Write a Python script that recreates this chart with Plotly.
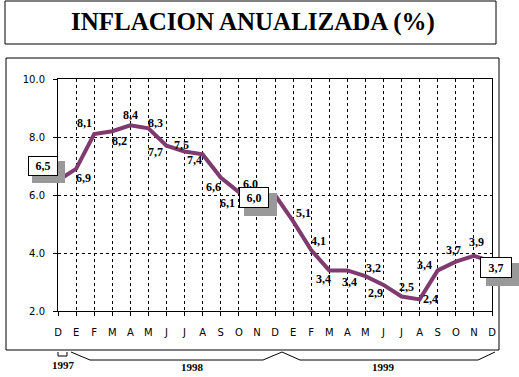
import plotly.graph_objects as go

# ---- data ----
month_labels = ["D", "E", "F", "M", "A", "M", "J", "J", "A", "S", "O", "N",
                "D", "E", "F", "M", "A", "M", "J", "J", "A", "S", "O", "N", "D"]
inflation = [6.5, 6.9, 8.1, 8.2, 8.4, 8.3, 7.7, 7.5, 7.4, 6.6, 6.1, 6.0,
             6.0, 5.1, 4.1, 3.4, 3.4, 3.2, 2.9, 2.5, 2.4, 3.4, 3.7, 3.9, 3.7]
year_labels = ["1997", "1998", "1999"]
title_text = "INFLACION ANUALIZADA (%)"
y_ticks = [2, 4, 6, 8, 10]

x_idx = list(range(len(inflation)))

# label offsets (pixels: dx right, dy down) for plain data labels
label_offsets = {
    1: (7, 8), 2: (-10, -12.5), 3: (7, 9), 4: (0, -11.5), 5: (7, -6.5),
    6: (-11.5, 5.5), 7: (-3, -8), 8: (-8.5, 5), 9: (-7, 8.5), 10: (-11, 9.5),
    11: (-6, -12.5), 13: (10.5, -9.5), 14: (7, -10.5), 15: (-6, 7.5),
    16: (2, 11), 17: (8, -9), 18: (-8, 7.5), 19: (5, -10.5), 20: (11, -1.5),
    21: (-13, -6.5), 22: (-2, -12.5), 23: (2.5, -14.5),
}
# boxed labels: index -> (box xshift, yshift, w, h, shadow xshift, yshift, w, h)
boxed = {
    0: (-15, 14.5, 30, 20, -9.5, 8.5, 33, 22),
    12: (-21, -2.5, 30, 21, -14.5, -9.5, 33, 23),
    24: (4, -5.5, 32, 21, 10.5, -12.4, 33, 23),
}

LINE_COLOR = "#7F3A6F"
SERIF = "Liberation Serif, Times New Roman, serif"
SANS = "DejaVu Sans, Arial, sans-serif"

# pixel -> paper helpers (plot area 58..492 x 79..311)
PL, PR, PT, PB = 58, 492, 79, 311
def px(x):
    return (x - PL) / (PR - PL)
def py(y):
    return (PB - y) / (PB - PT)

def fmt(v):
    return f"{v:.1f}".replace(".", ",")

fig = go.Figure()
fig.add_trace(go.Scatter(
    x=x_idx, y=inflation, mode="lines",
    line=dict(color=LINE_COLOR, width=4),
    hoverinfo="skip", showlegend=False,
))

annotations = []
shapes = []

for i, v in enumerate(inflation):
    if i in label_offsets:
        dx, dy = label_offsets[i]
        annotations.append(dict(
            x=i, y=v, xref="x", yref="y", text=fmt(v), showarrow=False,
            xanchor="center", yanchor="middle", xshift=dx, yshift=-dy - 1,
            font=dict(family=SERIF, size=12, color="black", weight="bold"),
        ))
    if i in boxed:
        bx, by, bw, bh, sx, sy, sw, sh = boxed[i]
        # shadow
        annotations.append(dict(
            x=i, y=v, xref="x", yref="y", text=" ", showarrow=False,
            xanchor="center", yanchor="middle", xshift=sx, yshift=sy,
            width=sw, height=sh, borderpad=0, borderwidth=0,
            bgcolor="#999999", font=dict(size=2, color="#999999"),
        ))
        # white box with value
        annotations.append(dict(
            x=i, y=v, xref="x", yref="y", text=fmt(v), showarrow=False,
            xanchor="center", yanchor="middle", xshift=bx, yshift=by,
            width=bw - 2, height=bh - 2, borderpad=0, borderwidth=1,
            bordercolor="black", bgcolor="white",
            font=dict(family=SERIF, size=12, color="black", weight="bold"),
        ))

# title box and text
shapes.append(dict(type="rect", xref="paper", yref="paper",
                   x0=px(5), x1=px(496), y0=py(1), y1=py(44),
                   line=dict(color="black", width=1), fillcolor="rgba(0,0,0,0)"))
annotations.append(dict(x=px(253), y=py(22.5), xref="paper", yref="paper",
                        text=title_text, showarrow=False, xanchor="center", yanchor="middle",
                        font=dict(family=SERIF, size=25, color="black", weight="bold")))

# outer chart frame
shapes.append(dict(type="rect", xref="paper", yref="paper",
                   x0=px(6), x1=px(499), y0=py(58), y1=py(350),
                   line=dict(color="black", width=1), fillcolor="rgba(0,0,0,0)"))

# year brackets
def path(points):
    return "M " + " L ".join(f"{px(a)},{py(b)}" for a, b in points)

shapes.append(dict(type="path", xref="paper", yref="paper",
                   path=path([(58, 352), (58, 356), (67, 356), (67, 352)]),
                   line=dict(color="black", width=1)))
shapes.append(dict(type="path", xref="paper", yref="paper",
                   path=path([(71, 352), (90, 360), (263, 360), (282, 352),
                              (300, 360), (478, 360), (495, 352)]),
                   line=dict(color="black", width=1)))
for txt, (xx, yy) in zip(year_labels, [(63, 365), (192, 367), (383, 367)]):
    annotations.append(dict(x=px(xx), y=py(yy), xref="paper", yref="paper",
                            text=txt, showarrow=False, xanchor="center", yanchor="middle",
                            font=dict(family=SERIF, size=11, color="black", weight="bold")))

fig.update_layout(
    width=519, height=377,
    margin=dict(l=PL, r=519 - PR, t=PT, b=377 - PB, pad=0),
    paper_bgcolor="white", plot_bgcolor="white",
    showlegend=False,
    shapes=shapes, annotations=annotations,
    xaxis=dict(
        range=[0, len(inflation) - 1], tickmode="array", tickvals=x_idx,
        ticktext=month_labels, showgrid=True, gridcolor="black", griddash="dot",
        gridwidth=1, showline=True, linecolor="black", linewidth=1, mirror=True,
        ticks="outside", ticklen=4, tickcolor="black", ticklabelstandoff=8,
        tickfont=dict(family=SANS, size=10, color="black"), zeroline=False,
        fixedrange=True,
    ),
    yaxis=dict(
        range=[2, 10], tickmode="array", tickvals=y_ticks, tickformat=".1f",
        showgrid=True, gridcolor="black", griddash="dot", gridwidth=1,
        showline=True, linecolor="black", linewidth=1, mirror=True,
        ticks="outside", ticklen=4, tickcolor="black", ticklabelstandoff=6,
        tickfont=dict(family=SANS, size=10, color="black"), zeroline=False,
        fixedrange=True,
    ),
)

fig.write_html("out.html", config={"displayModeBar": False},
               post_script="document.body.style.margin='0';document.body.style.overflow='hidden';")
